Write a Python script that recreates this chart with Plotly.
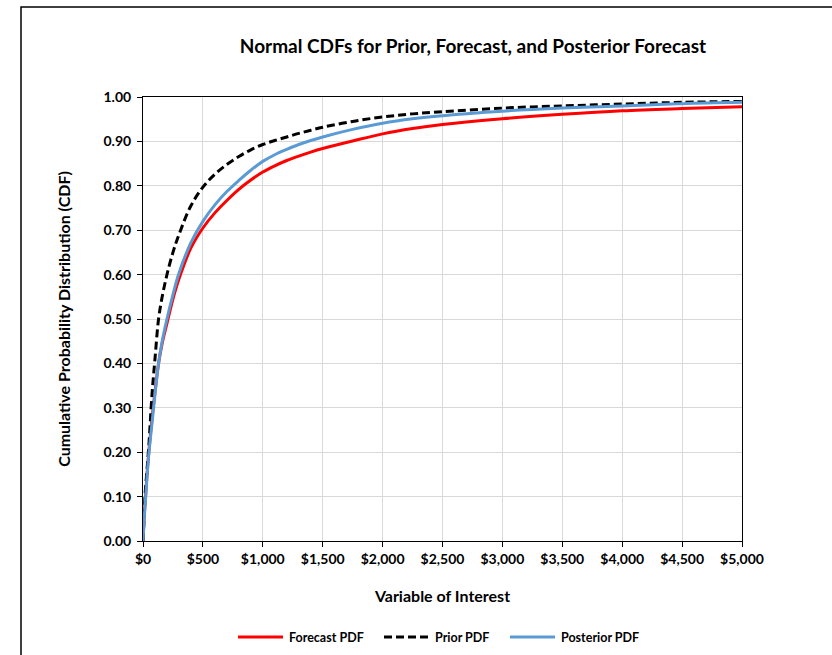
import plotly.graph_objects as go

# Values of the variable of interest at which each CDF is tabulated
x_vals = [0, 10, 20, 35, 50, 75, 100, 130, 160, 200, 250, 300, 400, 500, 600, 700,
          800, 900, 1000, 1100, 1200, 1300, 1400, 1500, 1750, 2000, 2250, 2500, 3000,
          3500, 4000, 4500, 5000]

# Cumulative probabilities for each distribution
forecast_cdf = [0.0, 0.055, 0.095, 0.155, 0.205, 0.275, 0.335, 0.40, 0.445, 0.49,
                0.545, 0.59, 0.66, 0.705, 0.739, 0.767, 0.792, 0.813, 0.831, 0.845,
                0.857, 0.867, 0.876, 0.884, 0.901, 0.917, 0.929, 0.938, 0.951, 0.961,
                0.969, 0.974, 0.978]
prior_cdf = [0.0, 0.06, 0.115, 0.165, 0.22, 0.33, 0.41, 0.50, 0.55, 0.60,
             0.65, 0.69, 0.755, 0.797, 0.826, 0.848, 0.866, 0.881, 0.893, 0.902,
             0.910, 0.918, 0.925, 0.932, 0.945, 0.955, 0.962, 0.967, 0.975, 0.980,
             0.984, 0.988, 0.990]
posterior_cdf = [0.0, 0.05, 0.09, 0.15, 0.20, 0.265, 0.33, 0.40, 0.45, 0.50,
                 0.555, 0.603, 0.672, 0.72, 0.757, 0.787, 0.812, 0.835, 0.855, 0.870,
                 0.882, 0.893, 0.902, 0.910, 0.927, 0.941, 0.951, 0.958, 0.968, 0.975,
                 0.980, 0.985, 0.988]

series_names = ["Forecast PDF", "Prior PDF", "Posterior PDF"]
series_colors = ["#FF0000", "#000000", "#5B9BD5"]
series_dashes = ["solid", "8px,4px", "solid"]

x_ticks = list(range(0, 5001, 500))
y_ticks = [i / 10 for i in range(11)]

FONT = "Lato"

# Plot-area pixel box, used to place paper-referenced decorations
L, R, T, B = 143, 742, 97, 541


def px_to_paper_x(px):
    return (px - L) / (R - L)


def px_to_paper_y(py):
    return (B - py) / (B - T)


fig = go.Figure()
for name, ys, color, dash in zip(series_names, [forecast_cdf, prior_cdf, posterior_cdf],
                                 series_colors, series_dashes):
    fig.add_trace(go.Scatter(x=x_vals, y=ys, name=name, mode="lines",
                             line=dict(color=color, width=3, dash=dash,
                                       shape="spline", smoothing=1.0)))

axis_common = dict(
    showgrid=True, gridcolor="#D9D9D9", gridwidth=1,
    showline=True, linecolor="#000000", linewidth=1, mirror=True,
    ticks="outside", ticklen=5, tickcolor="#000000",
    zeroline=False,
    tickfont=dict(family=FONT, size=14, color="#000000", weight="bold"),
)

fig.update_layout(
    width=832, height=655,
    margin=dict(l=L, r=832 - R, t=T, b=655 - B),
    paper_bgcolor="white", plot_bgcolor="white",
    showlegend=False,
    title=dict(text="Normal CDFs for Prior, Forecast, and Posterior Forecast",
               x=(473 / 832), xanchor="center", y=1 - 46 / 655, yanchor="middle",
               font=dict(family=FONT, size=19, color="#000000", weight="bold")),
    xaxis=dict(range=[0, 5000], tickvals=x_ticks, tickformat="$,.0f",
               ticklabelstandoff=0,
               title=dict(text="Variable of Interest", standoff=25,
                          font=dict(family=FONT, size=16, color="#000000", weight="bold")),
               **axis_common),
    yaxis=dict(range=[0, 1], tickvals=y_ticks, tickformat=".2f",
               ticklabelstandoff=3,
               title=dict(text="Cumulative Probability Distribution (CDF)", standoff=28,
                          font=dict(family=FONT, size=16, color="#000000", weight="bold")),
               **axis_common),
)

# Legend row below the axis title: sample line followed by its label
legend_y = px_to_paper_y(637)
legend_line_px = [(238, 283), (384, 429), (510, 555)]
legend_text_px = [287, 433, 559]
for name, color, dash, (lx0, lx1), tx in zip(series_names, series_colors, series_dashes,
                                             legend_line_px, legend_text_px):
    fig.add_shape(type="line", xref="paper", yref="paper",
                  x0=px_to_paper_x(lx0), x1=px_to_paper_x(lx1), y0=legend_y, y1=legend_y,
                  line=dict(color=color, width=3, dash=dash))
    fig.add_annotation(xref="paper", yref="paper", x=px_to_paper_x(tx), y=legend_y,
                       xanchor="left", yanchor="middle", showarrow=False, text=name,
                       font=dict(family=FONT, size=12.5, color="#000000", weight="bold"))

# Outer chart frame
fig.add_shape(type="rect", xref="paper", yref="paper",
              x0=px_to_paper_x(21), x1=px_to_paper_x(845),
              y0=px_to_paper_y(670), y1=px_to_paper_y(7),
              line=dict(color="#000000", width=1.5), layer="below")

fig.write_html("out.html")
